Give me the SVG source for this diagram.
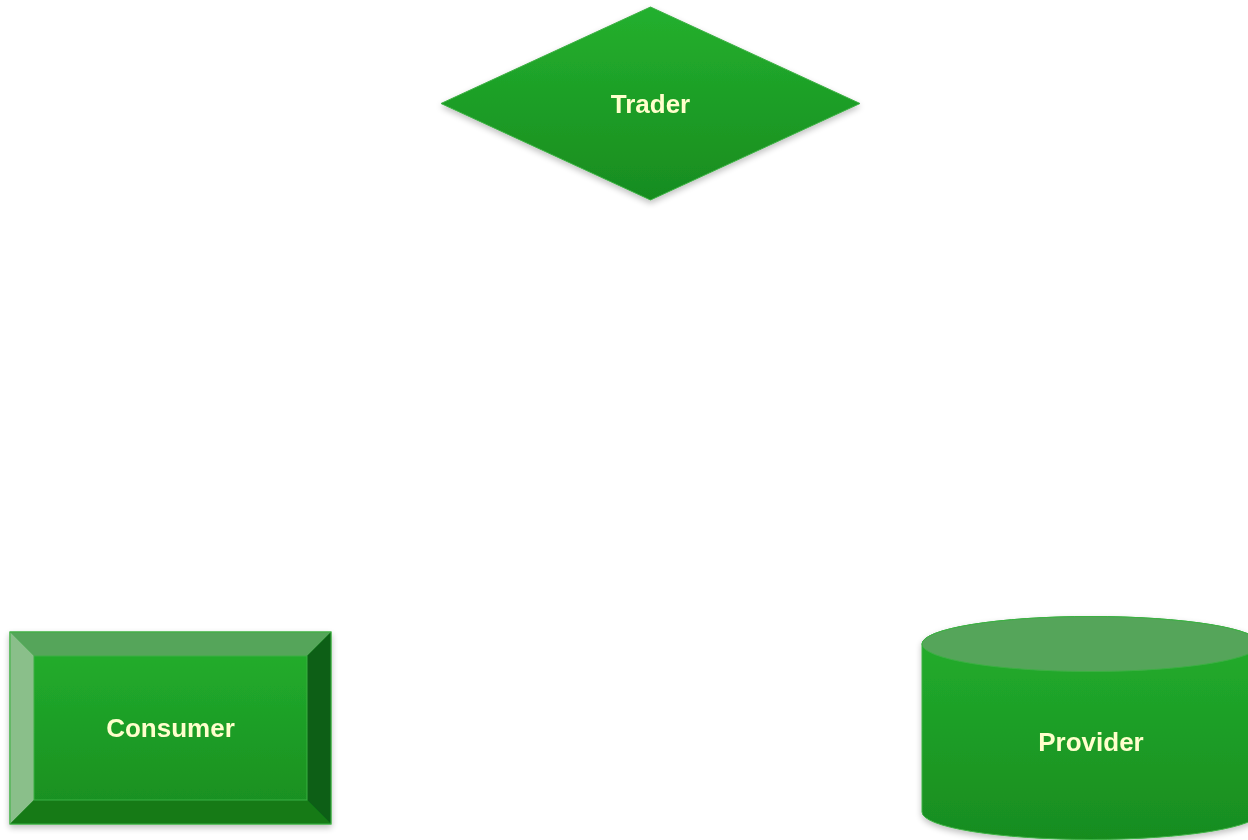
<svg xmlns="http://www.w3.org/2000/svg" width="1248" height="840" viewBox="0 0 1248 840">
  <defs>
    <linearGradient id="fillGreen" x1="0" y1="0" x2="0" y2="1">
      <stop offset="0" stop-color="#23b02e"/>
      <stop offset="1" stop-color="#188c1f"/>
    </linearGradient>
    <filter id="shadow" x="-10%" y="-10%" width="120%" height="130%">
      <feGaussianBlur in="SourceAlpha" stdDeviation="3"/>
      <feOffset dx="0" dy="3" result="b"/>
      <feComponentTransfer><feFuncA type="linear" slope="0.25"/></feComponentTransfer>
      <feMerge><feMergeNode/><feMergeNode in="SourceGraphic"/></feMerge>
    </filter>
    <style>
      .label { font-family: "Liberation Sans", Arial, sans-serif; font-weight: bold; font-size: 26px; fill: #ffffcc; text-anchor: middle; dominant-baseline: central; }
      .body { fill: url(#fillGreen); stroke: #3cb043; stroke-width: 1; }
    </style>
  </defs>

  <g id="connectors"></g>

  <g id="trader" filter="url(#shadow)">
    <polygon class="body" points="650.5,7 860,103.5 650.5,200 441,103.5"/>
    <text class="label" x="650.5" y="103.5">Trader</text>
  </g>

  <g id="consumer" filter="url(#shadow)">
    <rect class="body" x="10" y="632" width="321" height="192"/>
    <polygon points="10,632 331,632 307,656 34,656" fill="#55a55a"/>
    <polygon points="10,632 34,656 34,800 10,824" fill="#8abf8a"/>
    <polygon points="331,632 331,824 307,800 307,656" fill="#0a5e12"/>
    <polygon points="10,824 34,800 307,800 331,824" fill="#127a18"/>
    <rect x="34" y="656" width="273" height="144" fill="none" stroke="#3cb043" stroke-width="1"/>
    <rect x="10" y="632" width="321" height="192" fill="none" stroke="#3cb043" stroke-width="1"/>
    <text class="label" x="170.5" y="728">Consumer</text>
  </g>

  <g id="provider" filter="url(#shadow)">
    <path class="body" d="M922,644 A169,27.5 0 0 1 1260,644 L1260,812 A169,27.5 0 0 1 922,812 Z"/>
    <ellipse cx="1091" cy="644" rx="169" ry="27.5" fill="#55a55a" stroke="#3cb043" stroke-width="1"/>
    <text class="label" x="1091" y="742">Provider</text>
  </g>
</svg>
